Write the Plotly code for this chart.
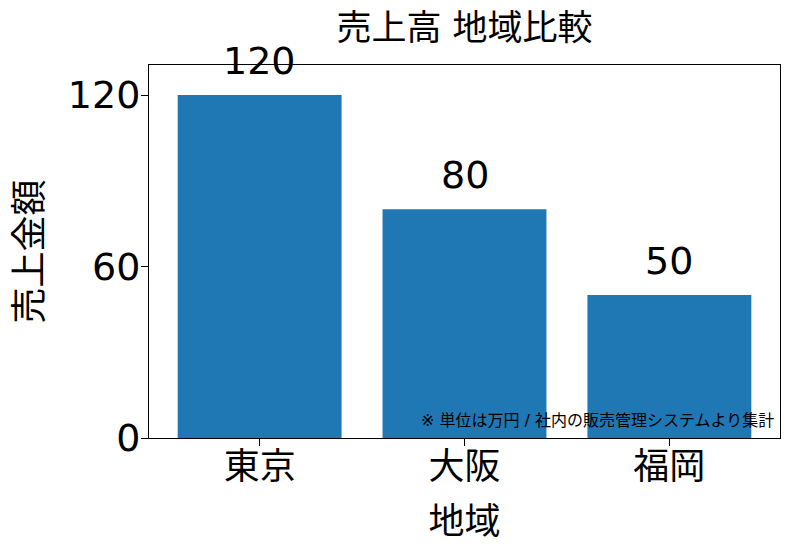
import plotly.graph_objects as go

# data
regions = ["東京", "大阪", "福岡"]
sales = [120, 80, 50]
y_ticks = [0, 60, 120]

title_text = "売上高 地域比較"
x_title = "地域"
y_title = "売上金額"
note_text = "※ 単位は万円 / 社内の販売管理システムより集計"

BLUE = "#1f77b4"
FONT = "DejaVu Sans, Noto Sans CJK JP, sans-serif"

fig = go.Figure()

fig.add_trace(
    go.Bar(
        x=list(range(len(regions))),
        y=sales,
        width=0.8,
        marker=dict(color=BLUE, line=dict(width=0)),
        hoverinfo="skip",
    )
)

# value labels above the bars
for i, v in enumerate(sales):
    fig.add_annotation(
        x=i, y=v, xref="x", yref="y",
        text=str(v), showarrow=False,
        yanchor="bottom", yshift=10,
        font=dict(size=38, color="black", family=FONT),
    )

fig.add_annotation(
    x=0.993, y=0.015, xref="paper", yref="paper",
    xanchor="right", yanchor="bottom",
    text=note_text, showarrow=False,
    font=dict(size=16, color="black", family=FONT),
)

# page body has an 8px margin, so everything is offset by 8px
fig.update_layout(
    width=790, height=550,
    margin=dict(l=141, r=18, t=57, b=120),
    paper_bgcolor="white", plot_bgcolor="white",
    showlegend=False,
    font=dict(family=FONT, color="black"),
    title=dict(
        text=title_text, x=456.5 / 790, xref="container", xanchor="center",
        y=1 - 20 / 550, yref="container", yanchor="middle",
        font=dict(size=35, color="black"),
    ),
)

fig.update_xaxes(
    range=[-0.54, 2.54],
    tickmode="array",
    tickvals=list(range(len(regions))),
    ticktext=regions,
    tickfont=dict(size=36),
    ticks="outside", ticklen=7, tickcolor="black", tickwidth=1,
    ticklabelstandoff=-10,
    showline=True, linecolor="black", linewidth=1, mirror=True,
    showgrid=False, zeroline=False, automargin=False,
    title=dict(text=x_title, font=dict(size=36), standoff=22),
)

fig.update_yaxes(
    range=[0, 130.5],
    tickmode="array",
    tickvals=y_ticks,
    tickfont=dict(size=38),
    ticks="outside", ticklen=7, tickcolor="black", tickwidth=1,
    ticklabelstandoff=-7,
    showline=True, linecolor="black", linewidth=1, mirror=True,
    showgrid=False, zeroline=False, automargin=False,
    title=dict(text=y_title, font=dict(size=36), standoff=14),
)

fig.write_html("out.html")
